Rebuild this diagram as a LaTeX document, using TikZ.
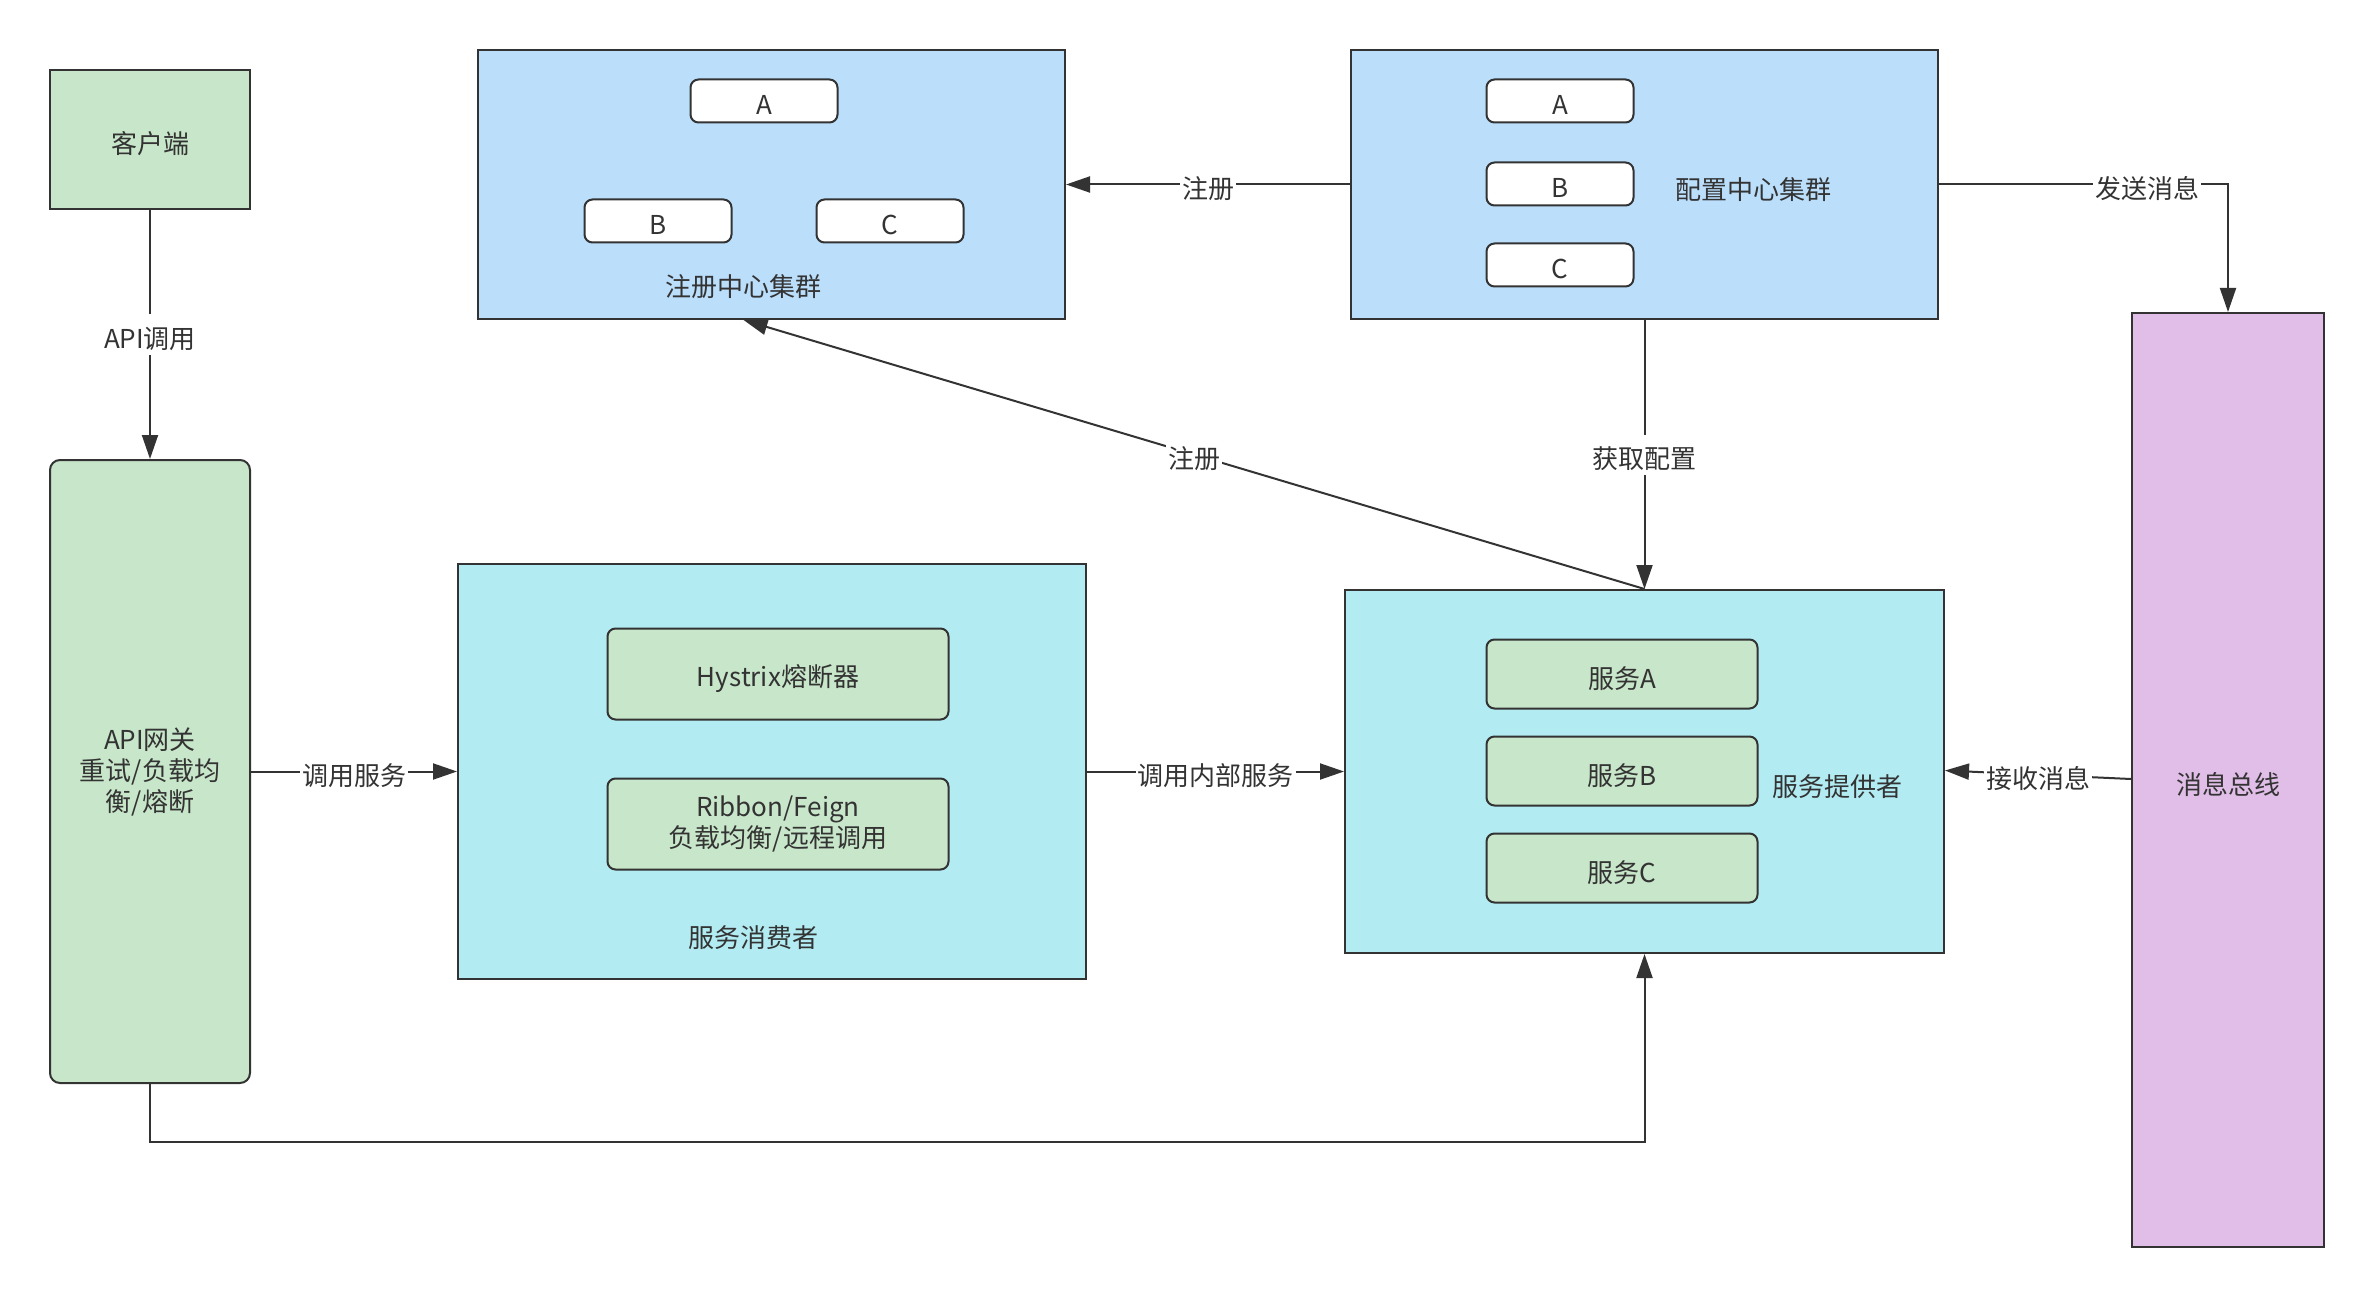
\documentclass[tikz,border=0pt]{standalone}
\usepackage{fontspec}
\setmainfont{Noto Sans CJK SC}
\usetikzlibrary{arrows.meta, positioning}

\definecolor{lineC}{HTML}{333333}
\definecolor{greenF}{HTML}{C8E6C9}
\definecolor{blueF}{HTML}{BBDEFB}
\definecolor{cyanF}{HTML}{B2EBF2}
\definecolor{purpleF}{HTML}{E1BEE7}

\tikzset{
  every node/.style={font=\fontsize{26}{31}\selectfont, text=lineC,
    execute at begin node={\rule[-4pt]{0pt}{36pt}}},
  box/.style={draw=lineC, line width=2pt, inner sep=0pt},
  smallbox/.style={box, fill=white, rounded corners=8pt, minimum width=147pt, minimum height=43pt},
  srvbox/.style={box, fill=greenF, rounded corners=8pt, minimum width=271pt, minimum height=69pt},
  compbox/.style={box, fill=greenF, rounded corners=8pt, minimum width=341pt, minimum height=91pt, align=center},
  lbl/.style={fill=white, inner sep=2pt},
  conn/.style={draw=lineC, line width=2pt, -{Triangle[length=24pt,width=16pt]}}
}

\begin{document}
\begin{tikzpicture}[x=1pt, y=-1pt]
        \useasboundingbox (0,0) rectangle (2372,1297);

        % Cluster
        \node[box, fill=blueF, minimum width=587pt, minimum height=269pt] (reg) at (771.5,184.5) {};
        \node[box, fill=blueF, minimum width=587pt, minimum height=269pt] (cfg) at (1644.5,184.5) {};
        \node[smallbox] (regA) at (764,101) {A};
        \node[smallbox] (regB) at (658,221) {B};
        \node[smallbox] (regC) at (890,221) {C};
        \node (reglbl) at (743,283) {注册中心集群};
        \node[smallbox] (cfgA) at (1560,101) {A};
        \node[smallbox] (cfgB) at (1560,184) {B};
        \node[smallbox] (cfgC) at (1560,265) {C};
        \node (cfglbl) at (1753,186) {配置中心集群};

        % Client e gateway
        \node[box, fill=greenF, minimum width=200pt, minimum height=139pt] (client) at (150,139.5) {客户端};
        \node[box, fill=greenF, rounded corners=10pt, minimum width=200pt, minimum height=623pt, align=center] (gw) at (150,771.5) {API网关\\重试/负载均\\衡/熔断};

        % Consumer
        \node[box, fill=cyanF, minimum width=628pt, minimum height=415pt] (cons) at (772,771.5) {};
        \node[compbox] (hystrix) at (778,674) {Hystrix熔断器};
        \node[compbox] (ribbon) at (778,824) {Ribbon/Feign\\负载均衡/远程调用};
        \node (conslbl) at (753,933) {服务消费者};

        % Provider
        \node[box, fill=cyanF, minimum width=599pt, minimum height=363pt] (prov) at (1644.5,771.5) {};
        \node[srvbox] (srvA) at (1622,674) {服务A};
        \node[srvbox] (srvB) at (1622,771) {服务B};
        \node[srvbox] (srvC) at (1622,868) {服务C};
        \node (provlbl) at (1837,782) {服务提供者};

        % Bus
        \node[box, fill=purpleF, minimum width=192pt, minimum height=934pt] (bus) at (2228,780) {消息总线};

        % Frecce
        \draw[conn] (client) -- node[lbl] {API调用} (gw);
        \draw[conn] (gw) -- node[lbl] {调用服务} (cons);
        \draw[conn] (cons) -- node[lbl] {调用内部服务} (prov);
        \draw[conn] (cfg) -- node[lbl] {注册} (reg);
        \draw[conn] (cfg) -- node[lbl] {获取配置} (prov);
        \draw[conn] (prov.north) -- node[lbl] {注册} ([xshift=-28pt]reg.south);
        \draw[conn] (cfg.east) -| node[lbl, pos=0.36] {发送消息} (bus.north);
        \draw[conn] ([yshift=1pt]bus.west) -- node[lbl] {接收消息} ([yshift=1pt]prov.east);
        \coordinate (down) at (150,1142);
        \draw[conn] (gw.south) -- (down) -| (prov.south);
      \end{tikzpicture}
\end{document}
